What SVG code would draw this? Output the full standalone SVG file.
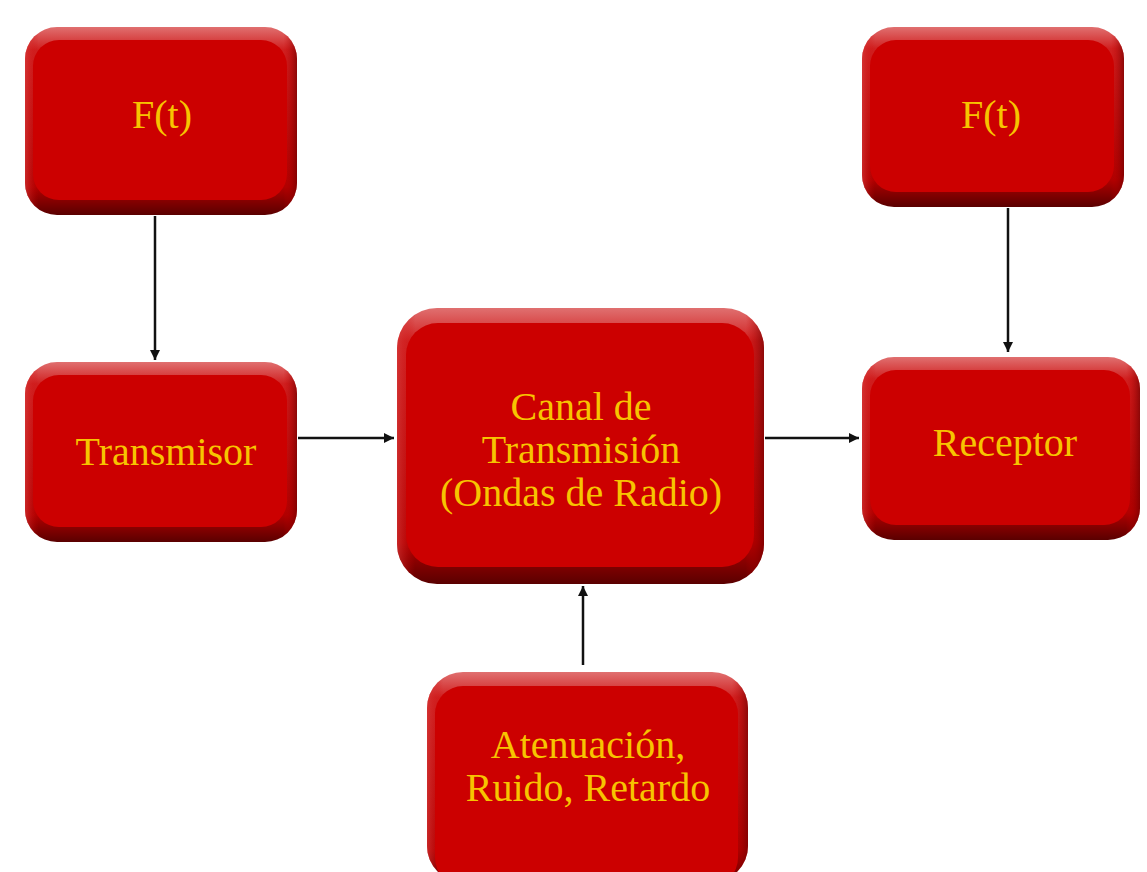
<svg xmlns="http://www.w3.org/2000/svg" width="1147" height="872" viewBox="0 0 1147 872">
<defs>
<linearGradient id="bev" x1="0" y1="0" x2="0" y2="1">
<stop offset="0" stop-color="#e07070"/>
<stop offset="0.12" stop-color="#d02020"/>
<stop offset="0.85" stop-color="#b00000"/>
<stop offset="1" stop-color="#5a0000"/>
</linearGradient>
<linearGradient id="side" x1="0" y1="0" x2="1" y2="0">
<stop offset="0" stop-color="#d84040" stop-opacity="0.6"/>
<stop offset="0.05" stop-color="#cc0000" stop-opacity="0"/>
<stop offset="0.95" stop-color="#cc0000" stop-opacity="0"/>
<stop offset="1" stop-color="#700000" stop-opacity="0.7"/>
</linearGradient>
<marker id="ah" viewBox="0 0 10 10" refX="10" refY="5" markerWidth="10" markerHeight="10" markerUnits="userSpaceOnUse" orient="auto">
<path d="M0,0 L10,5 L0,10 Z" fill="#111"/>
</marker>
</defs>
<style>
.outer{fill:url(#bev)}
.sides{fill:url(#side)}
.face{fill:#cc0000}
.lbl{font-family:"Liberation Serif","Times New Roman",serif;font-size:40px;fill:#f7c400;text-anchor:middle}
.con{stroke:#111;stroke-width:2.5;fill:none;marker-end:url(#ah)}
</style>
<rect width="1147" height="872" fill="#ffffff"/>
<g id="connectors">
<line class="con" x1="155" y1="216" x2="155" y2="360"/>
<line class="con" x1="1008" y1="208" x2="1008" y2="352"/>
<line class="con" x1="298" y1="438" x2="394" y2="438"/>
<line class="con" x1="765" y1="438" x2="859" y2="438"/>
<line class="con" x1="583" y1="665" x2="583" y2="586"/>
</g>
<g id="ft-left">
<rect class="outer" x="25" y="27" width="272" height="188" rx="32"/>
<rect class="sides" x="25" y="27" width="272" height="188" rx="32"/>
<rect class="face" x="33" y="40" width="254" height="160" rx="26"/>
<text class="lbl" x="162" y="128">F(t)</text>
</g>
<g id="ft-right">
<rect class="outer" x="862" y="27" width="262" height="180" rx="32"/>
<rect class="sides" x="862" y="27" width="262" height="180" rx="32"/>
<rect class="face" x="870" y="40" width="244" height="152" rx="26"/>
<text class="lbl" x="991" y="128">F(t)</text>
</g>
<g id="transmisor">
<rect class="outer" x="25" y="362" width="272" height="180" rx="32"/>
<rect class="sides" x="25" y="362" width="272" height="180" rx="32"/>
<rect class="face" x="33" y="375" width="254" height="152" rx="26"/>
<text class="lbl" x="166" y="465">Transmisor</text>
</g>
<g id="canal">
<rect class="outer" x="397" y="308" width="367" height="276" rx="40"/>
<rect class="sides" x="397" y="308" width="367" height="276" rx="40"/>
<rect class="face" x="406" y="323" width="348" height="244" rx="32"/>
<text class="lbl" x="581" y="420">Canal de</text>
<text class="lbl" x="581" y="463">Transmisión</text>
<text class="lbl" x="581" y="506">(Ondas de Radio)</text>
</g>
<g id="receptor">
<rect class="outer" x="862" y="357" width="278" height="183" rx="32"/>
<rect class="sides" x="862" y="357" width="278" height="183" rx="32"/>
<rect class="face" x="870" y="370" width="260" height="155" rx="26"/>
<text class="lbl" x="1005" y="456">Receptor</text>
</g>
<g id="atenuacion">
<rect class="outer" x="427" y="672" width="321" height="210" rx="36"/>
<rect class="sides" x="427" y="672" width="321" height="210" rx="36"/>
<rect class="face" x="435" y="686" width="303" height="200" rx="28"/>
<text class="lbl" x="588" y="758">Atenuación,</text>
<text class="lbl" x="588" y="801">Ruido, Retardo</text>
</g>
</svg>
